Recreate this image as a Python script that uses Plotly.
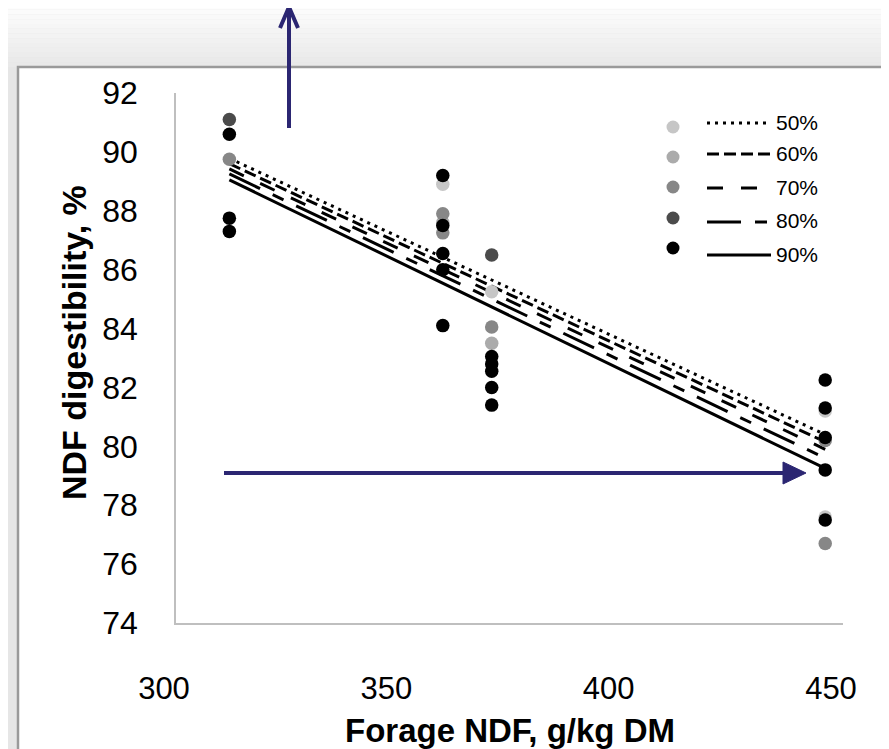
import plotly.graph_objects as go

# ---------------- data ----------------
levels = ["50%", "60%", "70%", "80%", "90%"]
colors = ["#c6c6c6", "#ababab", "#878787", "#4b4b4b", "#000000"]
dashes = ["3px,5px", "12px,5px", "16px,18px", "34px,14px,12px,14px", "solid"]

x_50 = [360, 371, 446, 446]
y_50 = [88.9, 85.25, 81.2, 77.6]
x_60 = [360, 371]
y_60 = [87.6, 83.5]
x_70 = [312, 360, 360, 371, 446, 446]
y_70 = [89.75, 87.9, 87.25, 84.05, 80.2, 76.7]
x_80 = [312, 371]
y_80 = [91.1, 86.5]
x_90 = [312, 312, 312, 360, 360, 360, 360, 360, 371, 371, 371, 371, 371, 446, 446, 446, 446, 446]
y_90 = [90.6, 87.75, 87.3, 89.2, 87.5, 86.55, 86.0, 84.1, 83.05, 82.8, 82.55, 82.0, 81.4,
        82.25, 81.3, 80.3, 79.2, 77.5]

fit_x = [312, 446]
fit_50 = [89.78, 80.4]
fit_60 = [89.6, 80.15]
fit_70 = [89.42, 79.9]
fit_80 = [89.25, 79.6]
fit_90 = [89.05, 79.25]

xs = [x_50, x_60, x_70, x_80, x_90]
ys = [y_50, y_60, y_70, y_80, y_90]
fits = [fit_50, fit_60, fit_70, fit_80, fit_90]

x_title = "Forage NDF, g/kg DM"
y_title = "NDF digestibility, %"

# ---------------- layout geometry ----------------
W, H = 889, 749
OFF = 8                       # page offset of the plot div
SL, SR, ST, SB = 176, 843, 93, 623   # plot area in screen pixels


def px(x):
    return (x - SL) / (SR - SL)


def py(y):
    return (SB - y) / (SB - ST)


FONT = "Liberation Sans, Arial, sans-serif"

fig = go.Figure()

for i in range(5):
    fig.add_trace(go.Scatter(
        x=fit_x, y=fits[i], mode="lines",
        line=dict(color="#000000", width=3, dash=dashes[i]),
        showlegend=False, hoverinfo="skip"))

for i in range(5):
    fig.add_trace(go.Scatter(
        x=xs[i], y=ys[i], mode="markers",
        marker=dict(color=colors[i], size=13.5, line=dict(width=0)),
        name=levels[i], showlegend=False))

shapes = []
# background gradient at top
bands = 14
for k in range(bands):
    y0 = 67 * k / bands
    y1 = 67 * (k + 1) / bands
    g = int(255 - (255 - 233) * (k / (bands - 1)))
    shapes.append(dict(type="rect", xref="paper", yref="paper",
                       x0=px(-20), x1=px(W + 20), y0=py(y1), y1=py(y0),
                       fillcolor=f"rgb({g},{g},{g})", line=dict(width=0), layer="below"))
shapes.append(dict(type="rect", xref="paper", yref="paper",
                   x0=px(-20), x1=px(W + 20), y0=py(H + 20), y1=py(67),
                   fillcolor="#e6e6e6", line=dict(width=0), layer="below"))
# chart frame
shapes.append(dict(type="rect", xref="paper", yref="paper",
                   x0=px(18), x1=px(885), y0=py(H + 20), y1=py(67),
                   fillcolor="#ffffff", line=dict(color="#9a9a9a", width=2.5), layer="below"))

# legend (drawn manually, Excel style)
mark_y = [127, 157, 187, 218, 248]
line_y = [123, 154, 188, 222, 255]
for i in range(5):
    r = 6.5
    shapes.append(dict(type="circle", xref="paper", yref="paper",
                       x0=px(673 - r), x1=px(673 + r), y0=py(mark_y[i] + r), y1=py(mark_y[i] - r),
                       fillcolor=colors[i], line=dict(width=0)))
    shapes.append(dict(type="line", xref="paper", yref="paper",
                       x0=px(707), x1=px(771), y0=py(line_y[i]), y1=py(line_y[i]),
                       line=dict(color="#000000", width=3, dash=dashes[i])))

ARROW = "#2b2672"
# vertical arrow
shapes.append(dict(type="line", xref="paper", yref="paper",
                   x0=px(289), x1=px(289), y0=py(128), y1=py(8),
                   line=dict(color=ARROW, width=4)))
shapes.append(dict(type="path", xref="paper", yref="paper",
                   path=f"M {px(280)} {py(28)} L {px(289)} {py(7)} L {px(298)} {py(28)}",
                   line=dict(color=ARROW, width=4)))
# horizontal arrow
shapes.append(dict(type="line", xref="paper", yref="paper",
                   x0=px(224), x1=px(790), y0=py(473), y1=py(473),
                   line=dict(color=ARROW, width=4)))
shapes.append(dict(type="path", xref="paper", yref="paper",
                   path=f"M {px(783)} {py(462)} L {px(806)} {py(473)} L {px(783)} {py(484)} Z",
                   fillcolor=ARROW, line=dict(color=ARROW, width=1)))

annotations = []
for i in range(5):
    annotations.append(dict(xref="paper", yref="paper", x=px(774), y=py(line_y[i] - 1),
                            text=levels[i], showarrow=False, xanchor="left", yanchor="middle",
                            font=dict(family=FONT, size=21, color="#000000")))
annotations.append(dict(xref="paper", yref="paper", x=0.5, y=py(730),
                        text=f"<b>{x_title}</b>", showarrow=False, xanchor="center", yanchor="middle",
                        font=dict(family=FONT, size=33, color="#000000")))
annotations.append(dict(xref="paper", yref="paper", x=px(74), y=py(343), textangle=-90,
                        text=f"<b>{y_title}</b>", showarrow=False, xanchor="center", yanchor="middle",
                        font=dict(family=FONT, size=34, color="#000000")))

fig.update_layout(
    width=W, height=H,
    margin=dict(l=SL - OFF, r=W - (SR - OFF), t=ST - OFF, b=H - (SB - OFF)),
    paper_bgcolor="#e6e6e6",
    plot_bgcolor="rgba(0,0,0,0)",
    shapes=shapes,
    annotations=annotations,
    showlegend=False,
    xaxis=dict(range=[300, 450], tickvals=[300, 350, 400, 450], showgrid=False, zeroline=False,
               showline=True, linecolor="#bfbfbf", linewidth=1.5, ticks="",
               ticklabelstandoff=37, ticklabelshift=-12,
               tickfont=dict(family=FONT, size=31, color="#000000")),
    yaxis=dict(range=[74, 92], dtick=2, showgrid=False, zeroline=False,
               showline=True, linecolor="#bfbfbf", linewidth=1.5, ticks="",
               ticklabelstandoff=30,
               tickfont=dict(family=FONT, size=32, color="#000000")),
)

fig.write_html("out.html")
